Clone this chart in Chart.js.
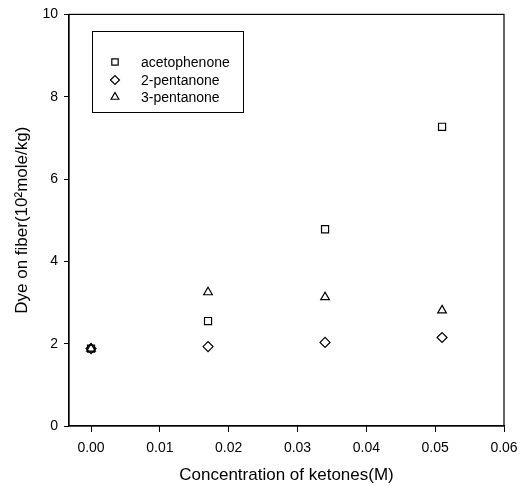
<!DOCTYPE html>
<html>
<head>
<meta charset="utf-8">
<script src="https://cdn.jsdelivr.net/npm/chart.js@4"></script>
<style>
html,body{margin:0;padding:0;background:#fff;}
#wrap{width:526px;height:486px;}
</style>
</head>
<body>
<div id="wrap"><canvas id="c" width="526" height="486"></canvas></div>
<script>
const concentrations = [0, 0.017, 0.034, 0.051];
const seriesNames = ['acetophenone', '2-pentanone', '3-pentanone'];
const acetophenone = [1.88, 2.55, 4.78, 7.27];
const pentanone2 = [1.88, 1.93, 2.03, 2.15];
const pentanone3 = [1.88, 3.25, 3.13, 2.81];
const xTicks = [0, 0.01, 0.02, 0.03, 0.04, 0.05, 0.06];
const yTicks = [0, 2, 4, 6, 8, 10];
const xTitle = 'Concentration of ketones(M)';
const yTitle = 'Dye on fiber(10\u00B2mole/kg)';

const styles = ['rect', 'rectRot', 'triangle'];
const allSeries = [acetophenone, pentanone2, pentanone3];

const FONT = '"Liberation Sans", Arial, sans-serif';

const datasets = allSeries.map((vals, i) => ({
  label: seriesNames[i],
  data: concentrations.map((x, j) => ({x: x, y: vals[j]})),
  pointStyle: styles[i],
  pointRadius: 5,
  pointHoverRadius: 5,
  borderColor: '#000',
  backgroundColor: 'rgba(255,255,255,0)',
  borderWidth: 1.2,
  showLine: false
}));

const framePlugin = {
  id: 'frame',
  afterDraw(chart) {
    const {ctx, chartArea: a} = chart;
    ctx.save();
    ctx.strokeStyle = '#000';
    ctx.lineWidth = 1.2;
    ctx.strokeRect(a.left, a.top, a.right - a.left, a.bottom - a.top);
    // legend box
    const bx = 92, by = 31, bw = 151, bh = 81;
    ctx.lineWidth = 1;
    ctx.strokeRect(bx + 0.5, by + 0.5, bw, bh);
    ctx.font = '14px ' + FONT;
    ctx.textBaseline = 'middle';
    const rows = [62, 80, 97];
    chart.data.datasets.forEach((ds, i) => {
      ctx.lineWidth = 1.2;
      ctx.strokeStyle = '#000';
      ctx.fillStyle = 'rgba(255,255,255,0)';
      Chart.helpers.drawPoint(ctx, {pointStyle: ds.pointStyle, radius: 4.5, borderWidth: 1.2}, 115, rows[i]);
      ctx.fillStyle = '#000';
      ctx.fillText(ds.label, 141, rows[i] + 1);
    });
    ctx.restore();
  }
};

new Chart(document.getElementById('c'), {
  type: 'scatter',
  data: {datasets},
  options: {
    responsive: false,
    animation: false,
    devicePixelRatio: 1,
    layout: {padding: {left: 0, top: 10, right: 22, bottom: 0}},
    plugins: {legend: {display: false}, tooltip: {enabled: false}},
    scales: {
      x: {
        type: 'linear',
        min: -0.0032,
        max: 0.06,
        afterBuildTicks(scale) { scale.ticks = xTicks.map(v => ({value: v})); },
        afterFit(scale) { scale.height = 60; },
        ticks: {
          color: '#000',
          font: {family: FONT, size: 14},
          padding: 8,
          maxRotation: 0,
          callback: v => Number(v).toFixed(2)
        },
        grid: {display: true, drawOnChartArea: false, drawTicks: true, tickLength: 6, color: '#000', lineWidth: 1},
        border: {display: true, color: '#000', width: 1.2},
        title: {display: true, text: xTitle, color: '#000', font: {family: FONT, size: 17}, padding: {top: 4, bottom: 0}}
      },
      y: {
        type: 'linear',
        min: 0,
        max: 10,
        afterBuildTicks(scale) { scale.ticks = yTicks.map(v => ({value: v})); },
        afterFit(scale) { scale.width = 69; },
        ticks: {
          color: '#000',
          font: {family: FONT, size: 14},
          padding: 6,
          callback: v => String(v)
        },
        grid: {display: true, drawOnChartArea: false, drawTicks: true, tickLength: 5, color: '#000', lineWidth: 1},
        border: {display: true, color: '#000', width: 1.2},
        title: {display: true, text: yTitle, color: '#000', font: {family: FONT, size: 17}, padding: {top: 12, bottom: 4}}
      }
    }
  },
  plugins: [framePlugin]
});
</script>
</body>
</html>
